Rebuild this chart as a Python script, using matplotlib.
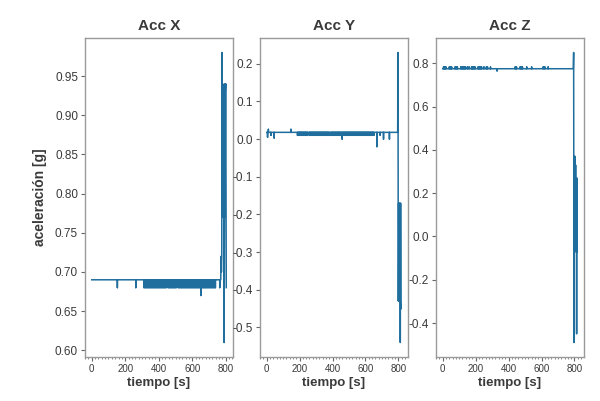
import matplotlib
matplotlib.use("Agg")
import matplotlib.pyplot as plt
from matplotlib.ticker import MultipleLocator
import numpy as np

plt.rcParams['font.family'] = ['Liberation Sans', 'DejaVu Sans']

# ---------------- data ----------------
titles = ["Acc X", "Acc Y", "Acc Z"]
xlabel = "tiempo [s]"
ylabel = "aceleración [g]"

# Acc X
x_base = 0.69
x_dip_level = 0.68
x_dip_times = [153, 263, 312, 318, 324, 330, 336, 342, 348, 354, 360, 366, 372, 378,
               384, 390, 396, 402, 408, 414, 420, 426, 432, 438, 444, 456, 462, 468,
               474, 480, 486, 492, 498, 504, 516, 522, 528, 534, 540, 546, 552, 558,
               564, 570, 576, 582, 588, 594, 600, 606, 612, 618, 624, 630, 636, 642,
               648, 654, 660, 666, 672, 678, 684, 690, 696, 702, 708, 714, 720, 726,
               732, 738, 764]
x_deep_times = [651]
x_deep_level = 0.67
x_burst_t = [770, 772, 774, 776, 778, 780, 782, 784, 786, 788, 790, 792, 794, 796, 798, 800, 803]
x_burst_v = [0.69, 0.72, 0.70, 0.72, 0.98, 0.77, 0.94, 0.77, 0.93, 0.78, 0.61, 0.77, 0.94, 0.77, 0.93, 0.94, 0.68]

# Acc Y
y_base = 0.018
y_dip_level = 0.01
y_early_t = [5, 10, 25, 45, 147]
y_early_v = [0.005, 0.026, 0.010, 0.003, 0.026]
y_dip_times = [187, 193, 199, 205, 211, 217, 223, 229, 235, 241, 247, 259, 265, 271,
               277, 283, 289, 295, 301, 307, 313, 319, 325, 331, 337, 343, 349, 355,
               361, 367, 373, 379, 391, 397, 403, 409, 415, 421, 427, 433, 439, 445,
               451, 465, 471, 477, 483, 489, 495, 501, 507, 513, 519, 525, 531, 537,
               543, 549, 555, 561, 567, 573, 579, 585, 591, 597, 603, 609, 615, 621,
               627, 633, 639, 645, 651, 690]
y_big_dip_t = [459, 670, 710, 746]
y_big_dip_v = [0.0, -0.02, 0.0, 0.0]
y_burst_t = [796, 798, 800, 802, 804, 806, 808, 810, 812, 814, 816, 818]
y_burst_v = [0.018, 0.23, -0.43, -0.17, -0.43, -0.17, -0.42, -0.17, -0.54, -0.17, -0.43, -0.45]

# Acc Z
z_base = 0.775
z_bump_level = 0.783
z_bump_times = [5, 12, 19, 40, 47, 54, 75, 82, 89, 110, 117, 124, 131, 138, 150, 160,
                175, 182, 189, 196, 215, 222, 229, 236, 250, 265, 272, 290, 440, 448,
                470, 477, 484, 510, 540, 610, 620, 640]
z_dip_times = [330]
z_dip_level = 0.765
z_burst_t = [793, 795, 797, 799, 801, 803, 805, 807, 809, 811, 813, 815, 817]
z_burst_v = [0.775, 0.85, -0.49, 0.37, -0.07, 0.37, -0.07, 0.33, -0.07, 0.27, -0.45, 0.27, -0.07]

xticks = [0, 200, 400, 600, 800]
yticks_x = [0.60, 0.65, 0.70, 0.75, 0.80, 0.85, 0.90, 0.95]
yticks_y = [-0.5, -0.4, -0.3, -0.2, -0.1, 0.0, 0.1, 0.2]
yticks_z = [-0.4, -0.2, 0.0, 0.2, 0.4, 0.6, 0.8]


def build(base, events, burst_t, burst_v):
    """events: list of (time, value) spikes off the base level."""
    t, v = [0.0], [base]
    for et, ev in sorted(events):
        t += [et, et, et]
        v += [base, ev, base]
    t += list(burst_t)
    v += list(burst_v)
    return np.array(t), np.array(v)


ex = [(tt, x_dip_level) for tt in x_dip_times] + [(tt, x_deep_level) for tt in x_deep_times]
tx, vx = build(x_base, ex, x_burst_t, x_burst_v)

ey = ([(tt, vv) for tt, vv in zip(y_early_t, y_early_v)]
      + [(tt, y_dip_level) for tt in y_dip_times]
      + [(tt, vv) for tt, vv in zip(y_big_dip_t, y_big_dip_v)])
ty, vy = build(y_base, ey, y_burst_t, y_burst_v)

ez = [(tt, z_bump_level) for tt in z_bump_times] + [(tt, z_dip_level) for tt in z_dip_times]
tz, vz = build(z_base, ez, z_burst_t, z_burst_v)

series = [(tx, vx, yticks_x, "%.2f"), (ty, vy, yticks_y, "%.1f"), (tz, vz, yticks_z, "%.1f")]

# ---------------- figure ----------------
fig = plt.figure(figsize=(6.0, 4.01), dpi=100)
lefts = [85 / 600, 260 / 600, 436 / 600]
width = 148 / 600
bottom = 1 - 357 / 401
height = (357 - 38) / 401

line_color = "#1f6e9e"
text_color = "#3a3a3a"
frame_color = "#9a9a9a"

for i, (t, v, yt, fmt) in enumerate(series):
    ax = fig.add_axes([lefts[i], bottom, width, height])
    ax.plot(t, v, color=line_color, lw=1.1)
    ax.set_xticks(xticks)
    ax.set_xticklabels([str(x) for x in xticks])
    ax.xaxis.set_minor_locator(MultipleLocator(20))
    ax.set_yticks(yt)
    ax.set_yticklabels([fmt % y for y in yt])
    for s in ax.spines.values():
        s.set_color(frame_color)
        s.set_linewidth(1.0)
    ax.tick_params(axis='both', which='major', length=3, width=0.8, color="#666666",
                   labelsize=8.5, labelcolor=text_color, pad=2)
    ax.tick_params(axis='x', which='minor', length=1.5, width=0.6, color="#777777")
    ax.tick_params(axis='x', labelsize=7)
    ax.set_title(titles[i], fontsize=11, color=text_color, fontweight='bold', pad=6)
    ax.set_xlabel(xlabel, fontsize=9.5, color=text_color, fontweight='bold', labelpad=2)
    if i == 0:
        ax.set_ylabel(ylabel, fontsize=10, color=text_color, fontweight='bold', labelpad=6)

fig.savefig("out.png", dpi=100)
